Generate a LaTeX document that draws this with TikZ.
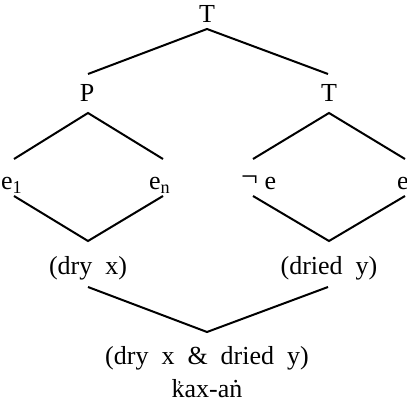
\documentclass[tikz,border=0pt]{standalone}
\usepackage{fontspec}
\setmainfont{Liberation Serif}
\newcommand\wsp{\hspace{0.5em}}
\newcommand\kmark{\rlap{\kern0.2em\raisebox{6pt}{\fontsize{15}{15}\selectfont\char"2019}}k}
\begin{document}
\begin{tikzpicture}[x=1pt,y=-1pt,
  lbl/.style={inner sep=0pt, font=\fontsize{26}{30}\selectfont},
  edge/.style={line width=2pt, line cap=butt, line join=miter}]
\useasboundingbox (0,0) rectangle (407,403);
% labels
\node[lbl] (root) at (207,14) {T};
\node[lbl] (P) at (87,93) {P};
\node[lbl] (T2) at (329,93) {T};
\node[lbl, anchor=base west] (e1) at (1,190) {e\textsubscript{1}};
\node[lbl, anchor=base west] (en) at (149,190) {e\textsubscript{n}};
\node[lbl, anchor=base west] (ne) at (241,190) {\raisebox{3pt}{\fontsize{30}{30}\selectfont ¬}\hspace{0.25em}e};
\node[lbl, anchor=base west] (e2) at (397,190) {e};
\node[lbl] (dry) at (88,268) {(dry\wsp x)};
\node[lbl] (dried) at (329,268) {(dried\wsp y)};
\node[lbl] (both) at (207,358) {(dry\wsp x\wsp \&\wsp dried\wsp y)};
\node[lbl] (word) at (207,389) {\kmark ax-aṅ};
% vertices
\coordinate (rt) at (207,29);
\coordinate (Pl) at (88,74);
\coordinate (Tl) at (328,74);
\coordinate (Pt) at (88,113);
\coordinate (e1t) at (14,159);
\coordinate (ent) at (163,159);
\coordinate (Tt) at (329,113);
\coordinate (net) at (253,159);
\coordinate (e2t) at (405,159);
\coordinate (e1b) at (14,196);
\coordinate (enb) at (163,196);
\coordinate (dryt) at (88,241);
\coordinate (neb) at (253,196);
\coordinate (e2b) at (405,196);
\coordinate (driedt) at (329,241);
\coordinate (dryb) at (88,287);
\coordinate (driedb) at (328,287);
\coordinate (botht) at (207,332);
% connectors
\draw[edge] (Pl) -- (rt) -- (Tl);
\draw[edge] (e1t) -- (Pt) -- (ent);
\draw[edge] (net) -- (Tt) -- (e2t);
\draw[edge] (e1b) -- (dryt) -- (enb);
\draw[edge] (neb) -- (driedt) -- (e2b);
\draw[edge] (dryb) -- (botht) -- (driedb);
\end{tikzpicture}
\end{document}
